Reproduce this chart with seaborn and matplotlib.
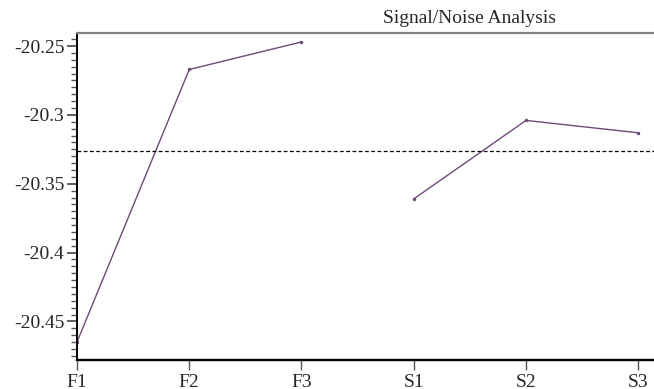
import numpy as np
import pandas as pd
import matplotlib
matplotlib.use("Agg")
import matplotlib.pyplot as plt
import seaborn as sns
from matplotlib.ticker import MultipleLocator, FuncFormatter

# data
levels = ["F1", "F2", "F3", "S1", "S2", "S3"]
groups = ["F", "F", "F", "S", "S", "S"]
sn_values = [-20.465, -20.267, -20.247, -20.361, -20.304, -20.313]
y_ticks = [-20.45, -20.4, -20.35, -20.3, -20.25]

df = pd.DataFrame({"level": levels, "group": groups, "sn": sn_values})
df["pos"] = np.arange(len(levels))
grand_mean = df["sn"].mean()

sns.set_style("white")
plt.rcParams["font.family"] = ["Liberation Serif", "DejaVu Serif"]

fig = plt.figure(figsize=(6.54, 3.89), dpi=100)
ax = fig.add_axes([0.1177, 0.0746, 0.8823, 0.8406])

sns.lineplot(data=df, x="pos", y="sn", units="group", estimator=None,
             color="#6e4a78", linewidth=1.0, marker="o", markersize=2.5,
             markeredgewidth=0, ax=ax)
ax.axhline(grand_mean, color="black", linewidth=0.9, linestyle=(0, (3, 2)))

ax.set_xlim(0, 5.14)
ax.set_ylim(-20.478, -20.2405)
ax.set_xticks(df["pos"])
ax.set_xticklabels(levels)
ax.set_yticks(y_ticks)
ax.yaxis.set_major_formatter(FuncFormatter(lambda v, p: f"{v:g}"))
ax.yaxis.set_minor_locator(MultipleLocator(0.005))
ax.set_xlabel("")
ax.set_ylabel("")

ax.tick_params(axis="y", which="major", left=True, length=7, width=1.2,
               color="#444444", labelsize=14, pad=2)
ax.tick_params(axis="y", which="minor", left=True, length=4, width=1.0,
               color="#555555")
ax.tick_params(axis="x", bottom=True, length=7, width=1.0,
               color="#555555", labelsize=14, pad=3)

ax.spines["right"].set_visible(False)
ax.spines["top"].set_color("#808080")
ax.spines["top"].set_linewidth(1.6)
ax.spines["left"].set_color("black")
ax.spines["left"].set_linewidth(1.4)
ax.spines["bottom"].set_color("black")
ax.spines["bottom"].set_linewidth(1.7)

fig.text(0.718, 0.952, "Signal/Noise Analysis", ha="center", va="center",
         fontsize=14)

fig.savefig("out.png", dpi=100)
